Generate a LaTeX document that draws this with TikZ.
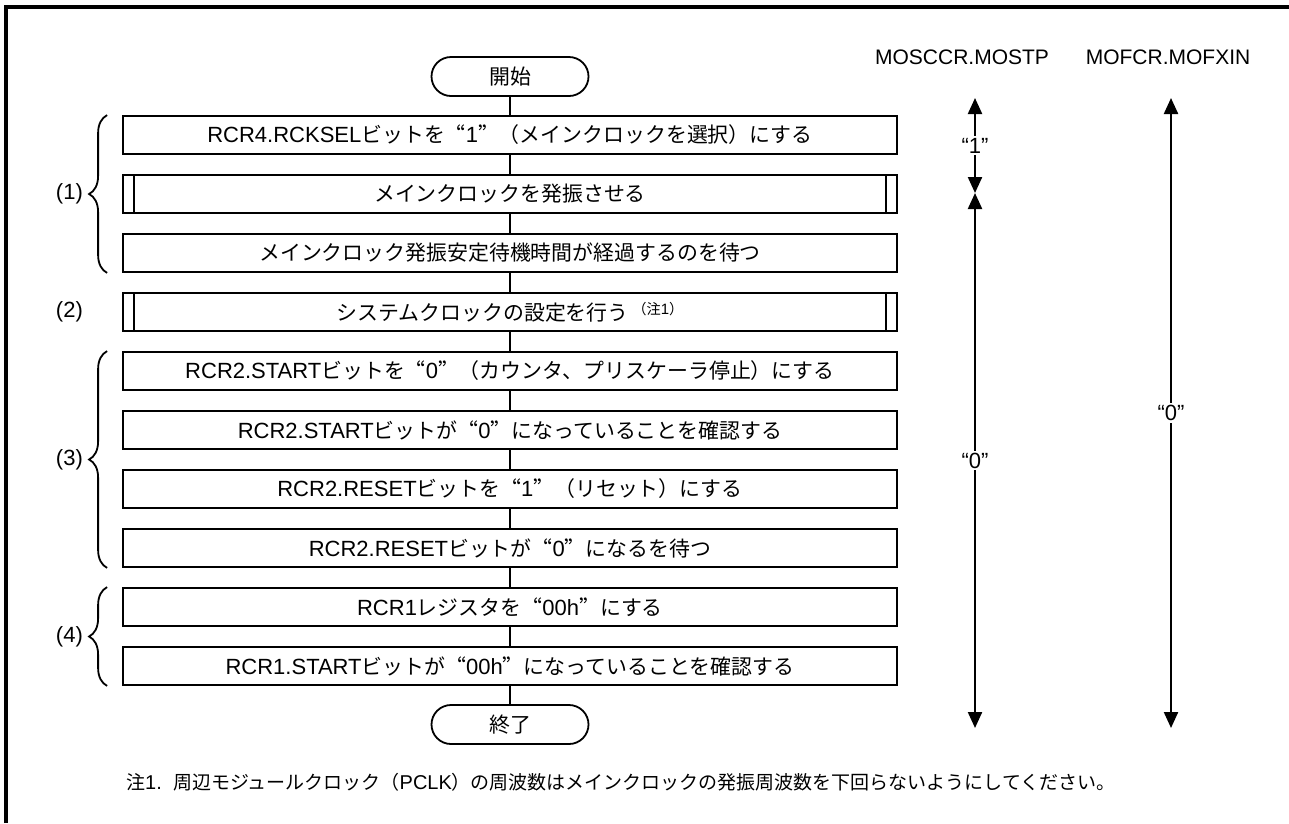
\documentclass[tikz,border=0pt]{standalone}
\usepackage{fontspec}
\setmainfont{Liberation Sans}
\newfontfamily\jp{Noto Sans CJK JP}[RawFeature=+fwid, Scale=0.95]
\newcommand{\J}[1]{{\jp #1}}
\usetikzlibrary{positioning,arrows.meta,shapes.misc,decorations.pathreplacing}

\tikzset{every picture/.style={line width=1.8pt}}
\tikzset{
	txt/.style={font=\fontsize{22}{26}\selectfont},
	proc/.style={txt, draw, rectangle, minimum width=774pt, minimum height=38pt, inner sep=0pt},
	subproc/.style={proc, path picture={
			\draw ([xshift=11pt]path picture bounding box.north west) -- ([xshift=11pt]path picture bounding box.south west);
			\draw ([xshift=-11pt]path picture bounding box.north east) -- ([xshift=-11pt]path picture bounding box.south east);}},
	term/.style={txt, draw, rounded rectangle, minimum width=157pt, minimum height=39pt, inner sep=0pt},
	grp/.style={decorate, decoration={brace, amplitude=18pt}},
	sig/.style={line width=2.2pt, {Triangle[length=16pt,width=14pt]}-{Triangle[length=16pt,width=14pt]}},
	val/.style={txt, fill=white, inner sep=2pt},
}

\begin{document}
\begin{tikzpicture}[x=1pt,y=1pt,yscale=-1]
	\useasboundingbox (0,0) rectangle (1289,823);
	
	%frame
	\draw [line width=3.5pt] (6,823) -- (6,7) -- (1289,7) ;
	
	% flow
	\node [term] (st) at (510,76.5) {\J{開始}};
	\node [proc] (b1) at (510,135) {RCR4.RCKSEL\J{ビットを“}1\J{”（メインクロックを選択）にする}};
	\node [subproc] (b2) at (510,194) {\J{メインクロックを発振させる}};
	\node [proc] (b3) at (510,253) {\J{メインクロック発振安定待機時間が経過するのを待つ}};
	\node [subproc] (b4) at (510,312) {\J{システムクロックの設定を行う}\,\raisebox{6pt}{\fontsize{15}{17}\selectfont\J{（注}1\J{）}}};
	\node [proc] (b5) at (510,371) {RCR2.START\J{ビットを“}0\J{”（カウンタ、プリスケーラ停止）にする}};
	\node [proc] (b6) at (510,430) {RCR2.START\J{ビットが“}0\J{”になっていることを確認する}};
	\node [proc] (b7) at (510,489) {RCR2.RESET\J{ビットを“}1\J{”（リセット）にする}};
	\node [proc] (b8) at (510,548) {RCR2.RESET\J{ビットが“}0\J{”になるを待つ}};
	\node [proc] (b9) at (510,607) {RCR1\J{レジスタを“}00h\J{”にする}};
	\node [proc] (b10) at (510,666) {RCR1.START\J{ビットが“}00h\J{”になっていることを確認する}};
	\node [term] (en) at (510,724.5) {\J{終了}};
	
	\draw (st) -- (b1) ;
	\foreach \a/\b in {b1/b2,b2/b3,b3/b4,b4/b5,b5/b6,b6/b7,b7/b8,b8/b9,b9/b10,b10/en}
		\draw (\a) -- (\b) ;
	
	% groups
	\draw [grp] ([xshift=-15pt]b3.south west) -- node [txt, left=20pt] (g1) {(1)} ([xshift=-15pt]b1.north west) ;
	\node [txt, anchor=east] (g2) at (g1.east |- b4) {(2)};
	\draw [grp] ([xshift=-15pt]b8.south west) -- node [txt, left=20pt] (g3) {(3)} ([xshift=-15pt]b5.north west) ;
	\draw [grp] ([xshift=-15pt]b10.south west) -- node [txt, left=20pt] (g4) {(4)} ([xshift=-15pt]b9.north west) ;
	
	% register levels
	\node [txt, font=\fontsize{21}{25}\selectfont] (h1) at (962,57) {MOSCCR.MOSTP};
	\node [txt, font=\fontsize{21}{25}\selectfont] (h2) at (1168,57) {MOFCR.MOFXIN};
	\coordinate (p1) at (975,98);
	\coordinate (p2) at (975,193);
	\coordinate (p3) at (975,728);
	\coordinate (q1) at (1171,98);
	\coordinate (q2) at (1171,728);
	\draw [sig] (p1) -- node [val] {“1”} (p2) ;
	\draw [sig] (p2) -- node [val] {“0”} (p3) ;
	\draw [sig] (q1) -- node [val] {“0”} (q2) ;
	
	% Text Node
	\node [anchor=west, font=\fontsize{20}{24}\selectfont] (nt) at (122,782) {\J{注}1.\ \ \J{周辺モジュールクロック（}PCLK\J{）の周波数はメインクロックの発振周波数を下回らないようにしてください。}};
\end{tikzpicture}
\end{document}
